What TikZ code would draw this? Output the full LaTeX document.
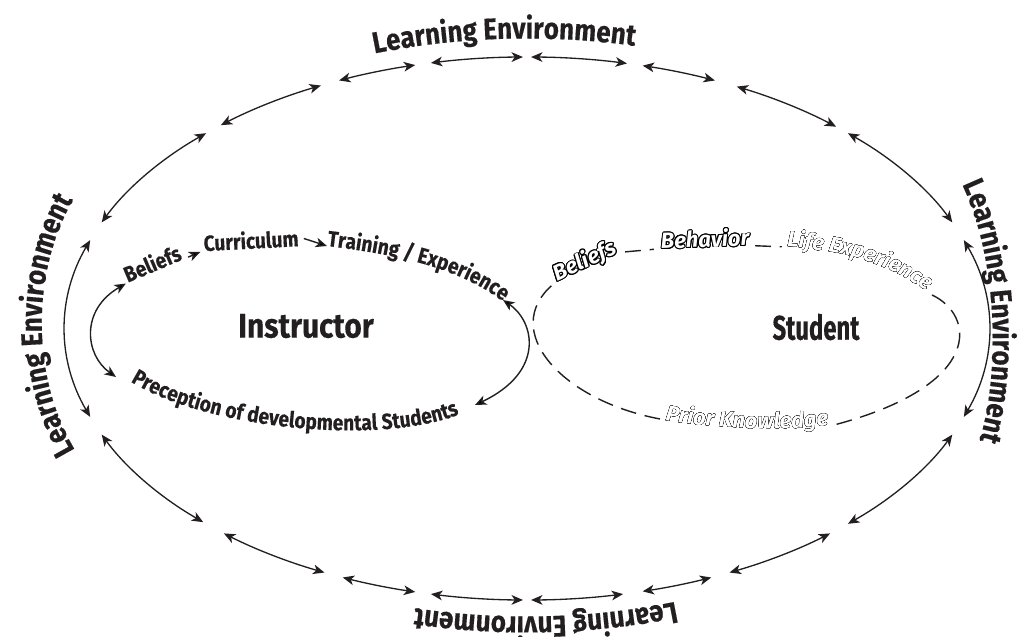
\documentclass[tikz,border=0pt]{standalone}
\usepackage{fontspec}
\usepackage{contour}
\usetikzlibrary{arrows.meta,decorations.text}
\setmainfont{Fira Sans}
\newfontfamily\handfont[FakeStretch=0.87, BoldFeatures={FakeBold=0.4}]{Fira Sans}
\newfontfamily\outlinefont{Fira Sans}
\definecolor{ink}{RGB}{35,31,32}
\contourlength{0.55pt}
\contournumber{16}
\newcommand{\envfont}{\handfont\bfseries\fontsize{17}{17}\selectfont}
\newcommand{\lblfont}{\handfont\bfseries\fontsize{12.5}{12.5}\selectfont}
\newcommand{\bigfont}{\handfont\bfseries\fontsize{19.5}{19.5}\selectfont}
\newcommand{\outfnt}{\outlinefont\bfseries\itshape\fontsize{12.5}{12.5}\selectfont}

\begin{document}
\begin{tikzpicture}[x=0.02cm, y=0.02cm,
  >={Stealth[length=6.5pt,width=5.5pt,inset=1.8pt]},
  ringarrow/.style={<->, draw=ink, line width=0.75pt, x radius=462, y radius=271.5},
  flow/.style={->, draw=ink, line width=0.8pt},
  biflow/.style={<->, draw=ink, line width=0.8pt},
  sloop/.style={draw=ink, line width=0.8pt, dash pattern=on 9pt off 5pt},
  lbl/.style={text=ink, font=\lblfont, inner sep=1pt},
  olbl/.style={text=white, font=\outfnt, inner sep=1pt},
  big/.style={text=ink, font=\bigfont},
  envtext/.style={decorate, decoration={text along path, text align=center, text color=ink}},
  inlabel/.style={decorate, decoration={text along path, text color=ink}},
  outtext/.style={decorate, decoration={text along path, text align=center, text color=black}}]
\useasboundingbox (0,0) rectangle (1026,636);
\coordinate (ring) at (527,307.5);

% learning environment ring
\draw[ringarrow] ([shift={(161:462 and 271.5)}]ring) arc[start angle=161, end angle=199];
\draw[ringarrow] ([shift={(134:462 and 271.5)}]ring) arc[start angle=134, end angle=157];
\draw[ringarrow] ([shift={(116.5:462 and 271.5)}]ring) arc[start angle=116.5, end angle=131.5];
\draw[ringarrow] ([shift={(104:462 and 271.5)}]ring) arc[start angle=104, end angle=114];
\draw[ringarrow] ([shift={(90.5:462 and 271.5)}]ring) arc[start angle=90.5, end angle=102];
\draw[ringarrow] ([shift={(77.5:462 and 271.5)}]ring) arc[start angle=77.5, end angle=89.5];
\draw[ringarrow] ([shift={(66:462 and 271.5)}]ring) arc[start angle=66, end angle=75.5];
\draw[ringarrow] ([shift={(48:462 and 271.5)}]ring) arc[start angle=48, end angle=63];
\draw[ringarrow] ([shift={(23:462 and 271.5)}]ring) arc[start angle=23, end angle=46];
\draw[ringarrow] ([shift={(-19:462 and 271.5)}]ring) arc[start angle=-19, end angle=19];
\draw[ringarrow] ([shift={(-46:462 and 271.5)}]ring) arc[start angle=-46, end angle=-23];
\draw[ringarrow] ([shift={(-64:462 and 271.5)}]ring) arc[start angle=-64, end angle=-49];
\draw[ringarrow] ([shift={(-75.5:462 and 271.5)}]ring) arc[start angle=-75.5, end angle=-66.5];
\draw[ringarrow] ([shift={(-89.5:462 and 271.5)}]ring) arc[start angle=-89.5, end angle=-78];
\draw[ringarrow] ([shift={(-102:462 and 271.5)}]ring) arc[start angle=-102, end angle=-90.5];
\draw[ringarrow] ([shift={(-113.5:462 and 271.5)}]ring) arc[start angle=-113.5, end angle=-104];
\draw[ringarrow] ([shift={(-131:462 and 271.5)}]ring) arc[start angle=-131, end angle=-116];
\draw[ringarrow] ([shift={(-157:462 and 271.5)}]ring) arc[start angle=-157, end angle=-134.5];

\path[envtext, decoration={text={|\envfont|Learning Environment}}] ([shift={(125:481 and 290)}]ring) arc[start angle=125, end angle=61, x radius=481, y radius=290];
\path[envtext, decoration={text={|\envfont|Learning Environment}}] (78,181) .. controls (30,256) and (30,366) .. (76,441);
\path[envtext, decoration={text={|\envfont|Learning Environment}}] (960,456) .. controls (1000,376) and (1000,256) .. (978,191);
\path[envtext, decoration={text={|\envfont|Learning Environment}}] ([shift={(-55:470 and 288)}]ring) arc[start angle=-55, end angle=-120, x radius=470, y radius=288];

% instructor
\node[big] (instr) at (306,310) {Instructor};
\node[lbl, rotate=23] (ibeliefs) at (152,373) {Beliefs};
\node[lbl, rotate=3] (icurric) at (251,396) {Curriculum};
\coordinate (itrainA) at (327,390);
\coordinate (itrainB) at (505,333);
\coordinate (iprecA) at (128,256);
\coordinate (iprecB) at (462,223);
\coordinate (itrainTip) at (503,336);
\coordinate (iprecTip) at (475,231);
\coordinate (ileftTip) at (116,259);
\path[inlabel, decoration={text={|\lblfont|Training / Experience}}] (itrainA) .. controls (400,381) and (460,368) .. (itrainB);
\path[inlabel, decoration={text={|\lblfont|Preception of developmental Students}, text align=center}] (iprecA) .. controls (210,204) and (390,191) .. (iprecB);
\draw[flow, shorten <=2pt, shorten >=1pt] (ibeliefs.base east) -- (icurric.base west);
\draw[flow, shorten <=2pt] (icurric.east) -- (itrainA);
\draw[biflow] (ibeliefs.base west) .. controls (80,326) and (85,281) .. (ileftTip);
\draw[biflow] (itrainTip) .. controls (535,314) and (545,264) .. (iprecTip);

% student
\node[big, xscale=0.8] (student) at (816,309) {Student};
\node[olbl, rotate=25] (sbeliefs) at (585,374) {\contour{black}{Beliefs}};
\node[olbl, rotate=2] (sbehav) at (705,397) {\contour{black}{Behavior}};
\coordinate (slifeA) at (787,389);
\coordinate (slifeB) at (932,341);
\coordinate (spriorA) at (660,217);
\coordinate (spriorB) at (834,211);
\foreach \a in {0,30,...,330}
  \path[outtext, transform canvas={shift={(\a:0.55pt)}}, decoration={text={|\outfnt|Life Experience}, text align=left}] (slifeA) .. controls (840,386) and (890,374) .. (slifeB);
\path[outtext, decoration={text={|\outfnt|Life Experience}, text align=left, text color=white}] (slifeA) .. controls (840,386) and (890,374) .. (slifeB);
\foreach \a in {0,30,...,330}
  \path[outtext, transform canvas={shift={(\a:0.55pt)}}, decoration={text={|\outfnt|Prior Knowledge}}] (spriorA) .. controls (700,208) and (780,204) .. (spriorB);
\path[outtext, decoration={text={|\outfnt|Prior Knowledge}, text color=white}] (spriorA) .. controls (700,208) and (780,204) .. (spriorB);
\draw[sloop, shorten <=3pt, shorten >=3pt] (sbeliefs.base east) -- (sbehav.base west);
\draw[sloop, shorten <=2pt, shorten >=3pt] (sbehav.base east) -- (slifeA);
\draw[sloop] (slifeB) .. controls (975,321) and (985,251) .. (spriorB);
\draw[sloop, shorten >=2pt] (spriorA) .. controls (560,236) and (500,306) .. (sbeliefs.base west);
\end{tikzpicture}
\end{document}
